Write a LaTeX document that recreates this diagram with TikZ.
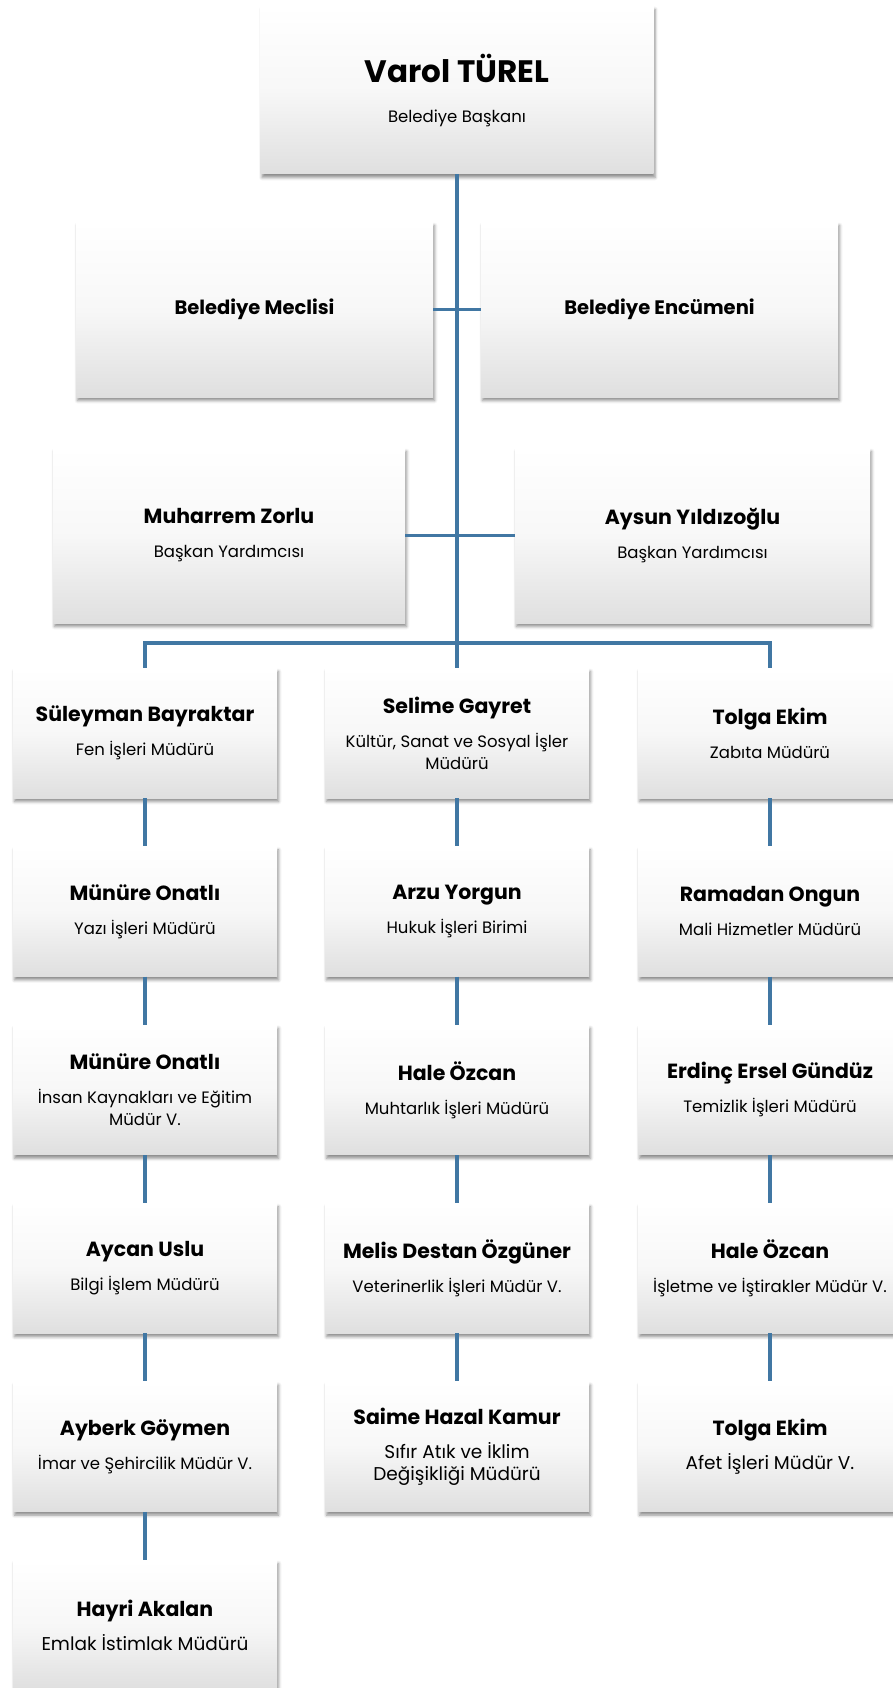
\documentclass[tikz,border=0pt]{standalone}
\usepackage{fontspec}
\setmainfont{Poppins}
\usepackage{tikz}
\usetikzlibrary{positioning,shadows.blur}
\definecolor{hatmavi}{RGB}{65,119,163}
\newcommand{\kisi}[2]{{\fontsize{20.5}{24}\selectfont\bfseries #1}\\[12pt]#2}
\newcommand{\buyuk}{\fontsize{18.5}{27}\selectfont}
\tikzset{kutu/.style={draw=none,top color=white,bottom color=gray!25,middle color=gray!6,
    blur shadow={shadow xshift=1.5pt,shadow yshift=-3.5pt,shadow blur radius=3pt,shadow opacity=45},
    minimum width=264pt,minimum height=130pt,inner sep=0pt,align=center,
    font=\fontsize{16.5}{22}\selectfont},
    genis/.style={kutu,minimum width=357pt,minimum height=175pt},
    hat/.style={draw=hatmavi,line width=3.5pt},
    node distance=48pt}

\begin{document}
\begin{tikzpicture}[x=1pt,y=-1pt]
\useasboundingbox (0,0) rectangle (892,1688);
\node[kutu,minimum width=393pt,minimum height=168pt] (baskan) at (457,90)
    {{\fontsize{31}{34}\selectfont\bfseries Varol TÜREL}\\[18pt]Belediye Başkanı};
\node[genis] (meclis) at (254.5,309.5) {\textbf{\fontsize{19.5}{22}\selectfont Belediye Meclisi}};
\node[genis] (encumen) at (659.5,309.5) {\textbf{\fontsize{19.5}{22}\selectfont Belediye Encümeni}};
\node[genis,minimum width=352pt] (yrd1) at (229,535.5) {\kisi{Muharrem Zorlu}{Başkan Yardımcısı}};
\node[genis,minimum width=355pt] (yrd2) at (692.5,535.5) {\kisi{Aysun Yıldızoğlu}{Başkan Yardımcısı}};
\coordinate (bus) at (457,643);

\node[kutu] (a1) at (145,733) {\kisi{Süleyman Bayraktar}{Fen İşleri Müdürü}};
\node[kutu,below=of a1] (a2) {\kisi{Münüre Onatlı}{Yazı İşleri Müdürü}};
\node[kutu,below=of a2] (a3) {\kisi{Münüre Onatlı}{İnsan Kaynakları ve Eğitim\\Müdür V.}};
\node[kutu,below=of a3] (a4) {\kisi{Aycan Uslu}{Bilgi İşlem Müdürü}};
\node[kutu,below=of a4] (a5) {\kisi{Ayberk Göymen}{İmar ve Şehircilik Müdür V.}};
\node[kutu,below=of a5] (a6) {\kisi{Hayri Akalan}{\buyuk Emlak İstimlak Müdürü}};

\node[kutu] (b1) at (457,733) {\kisi{Selime Gayret}{Kültür, Sanat ve Sosyal İşler\\Müdürü}};
\node[kutu,below=of b1] (b2) {\kisi{Arzu Yorgun}{Hukuk İşleri Birimi}};
\node[kutu,below=of b2] (b3) {\kisi{Hale Özcan}{Muhtarlık İşleri Müdürü}};
\node[kutu,below=of b3] (b4) {\kisi{Melis Destan Özgüner}{Veterinerlik İşleri Müdür V.}};
\node[kutu,below=of b4] (b5) {\kisi{Saime Hazal Kamur}{\buyuk Sıfır Atık ve İklim\\\buyuk Değişikliği Müdürü}};

\node[kutu] (c1) at (770,733) {\kisi{Tolga Ekim}{Zabıta Müdürü}};
\node[kutu,below=of c1] (c2) {\kisi{Ramadan Ongun}{Mali Hizmetler Müdürü}};
\node[kutu,below=of c2] (c3) {\kisi{Erdinç Ersel Gündüz}{Temizlik İşleri Müdürü}};
\node[kutu,below=of c3] (c4) {\kisi{Hale Özcan}{İşletme ve İştirakler Müdür V.}};
\node[kutu,below=of c4] (c5) {\kisi{Tolga Ekim}{\buyuk Afet İşleri Müdür V.}};

\draw[hat] (baskan.south) -- (bus);
\draw[hat] (meclis) -- (encumen);
\draw[hat] (yrd1) -- (yrd2);
\draw[hat] (a1.north) |- (bus) -| (c1.north);
\draw[hat] (bus) -- (b1.north);
\draw[hat] (a1) -- (a2) (a2) -- (a3) (a3) -- (a4) (a4) -- (a5) (a5) -- (a6);
\draw[hat] (b1) -- (b2) (b2) -- (b3) (b3) -- (b4) (b4) -- (b5);
\draw[hat] (c1) -- (c2) (c2) -- (c3) (c3) -- (c4) (c4) -- (c5);
\end{tikzpicture}
\end{document}
